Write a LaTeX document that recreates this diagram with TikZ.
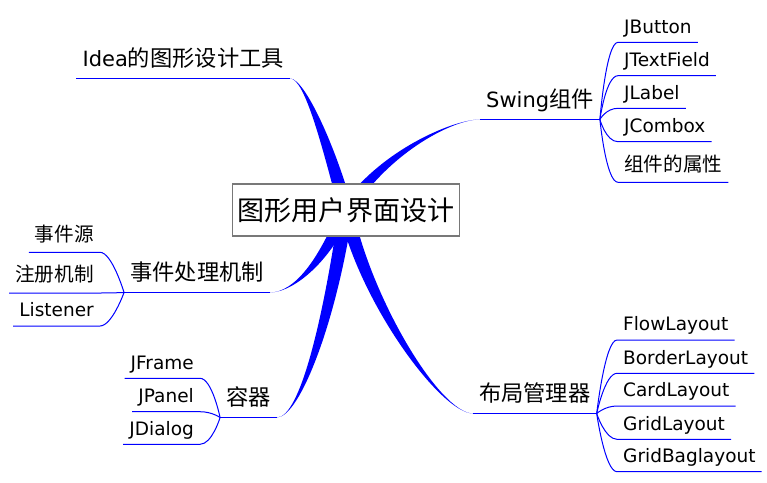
\documentclass[tikz,border=0pt]{standalone}
\usepackage{fontspec}
\setmainfont{DejaVu Sans}
\newfontfamily\cjk{Noto Sans CJK SC}[Scale=1.06]
\usetikzlibrary{calc}
\definecolor{azul}{RGB}{0,0,255}
\definecolor{borda}{RGB}{120,120,120}
\tikzset{
  raiz/.style={draw=borda, line width=1.2pt, fill=white, inner xsep=5pt, minimum height=52pt, font=\cjk\fontsize{25.5}{27}\selectfont},
  ramo/.style={inner xsep=6pt, inner ysep=0pt, text depth=12pt, font=\fontsize{21}{23}\selectfont},
  folha/.style={inner xsep=6pt, inner ysep=0pt, text depth=9pt, font=\fontsize{18.5}{20}\selectfont},
  folhazh/.style={folha, text depth=11pt, font=\cjk\fontsize{18.5}{20}\selectfont},
  tronco/.style={fill=azul},
  linha/.style={azul, line width=1pt}
}
\begin{document}
\begin{tikzpicture}[x=1pt, y=-1pt]
	\useasboundingbox (0,0) rectangle (767,482);
	%ponto central
	\coordinate (c) at (346,210);

	%ramos
	\node[ramo, anchor=south east] (idea) at (290,78.5) {Idea{\cjk 的图形设计工具}};
	\node[ramo, anchor=south west] (swing) at (480,119.5) {Swing{\cjk 组件}};
	\node[ramo, anchor=south east] (eventos) at (270,292.5) {\cjk 事件处理机制};
	\node[ramo, anchor=south east] (container) at (277,417.5) {\cjk 容器};
	\node[ramo, anchor=south west] (layout) at (473,413.5) {\cjk 布局管理器};

	\draw[linha] (idea.south west) -- (idea.south east);
	\draw[linha] (swing.south west) -- (swing.south east);
	\draw[linha] (eventos.south west) -- (eventos.south east);
	\draw[linha] (container.south west) -- (container.south east);
	\draw[linha] (layout.south west) -- (layout.south east);

	\fill[tronco] (idea.south east) .. controls (305,78) and (323,150) .. ($(c)+(-7,0)$)
		-- ($(c)+(7,0)$) .. controls (337,150) and (305,78) .. (idea.south east);
	\fill[tronco] (swing.south west) .. controls (455,119) and (378,150) .. ($(c)+(-7,0)$)
		-- ($(c)+(7,0)$) .. controls (392,150) and (455,119) .. (swing.south west);
	\fill[tronco] (eventos.south east) .. controls (295,292) and (318,260) .. ($(c)+(-7,0)$)
		-- ($(c)+(7,0)$) .. controls (332,260) and (295,292) .. (eventos.south east);
	\fill[tronco] (container.south east) .. controls (300,417) and (323,320) .. ($(c)+(-7,0)$)
		-- ($(c)+(7,0)$) .. controls (337,320) and (300,417) .. (container.south east);
	\fill[tronco] (layout.south west) .. controls (440,413) and (358,300) .. ($(c)+(-7,0)$)
		-- ($(c)+(7,0)$) .. controls (372,300) and (440,413) .. (layout.south west);

	\node[raiz] (raiz) at (c) {图形用户界面设计};

	%folhas swing
	\node[folha, anchor=south west] (jbutton) at (618,42.3) {JButton};
	\node[folha, anchor=south west] (jtextfield) at (618,75.7) {JTextField};
	\node[folha, anchor=south west] (jlabel) at (618,108.3) {JLabel};
	\node[folha, anchor=south west] (jcombox) at (618,141.7) {JCombox};
	\node[folhazh, anchor=south west] (atributos) at (618,182.3) {组件的属性};

	\draw[linha] (swing.south east) .. controls +(0,0) and +(-12,0) .. (jbutton.south west) -- (jbutton.south east);
	\draw[linha] (swing.south east) .. controls +(0,0) and +(-12,0) .. (jtextfield.south west) -- (jtextfield.south east);
	\draw[linha] (swing.south east) .. controls +(0,0) and +(-12,0) .. (jlabel.south west) -- (jlabel.south east);
	\draw[linha] (swing.south east) .. controls +(0,0) and +(-12,0) .. (jcombox.south west) -- (jcombox.south east);
	\draw[linha] (swing.south east) .. controls +(0,0) and +(-12,0) .. (atributos.south west) -- (atributos.south east);

	%folhas eventos
	\node[folhazh, anchor=south east] (fonte) at (100,252.3) {事件源};
	\node[folhazh, anchor=south east] (registro) at (100,293) {注册机制};
	\node[folha, anchor=south east] (listener) at (100,326) {Listener};

	\draw[linha] (eventos.south west) .. controls +(0,0) and +(12,0) .. (fonte.south east) -- (fonte.south west);
	\draw[linha] (eventos.south west) .. controls +(0,0) and +(12,0) .. (registro.south east) -- (registro.south west);
	\draw[linha] (eventos.south west) .. controls +(0,0) and +(12,0) .. (listener.south east) -- (listener.south west);

	%folhas container
	\node[folha, anchor=south east] (jframe) at (200,378.3) {JFrame};
	\node[folha, anchor=south east] (jpanel) at (200,411.7) {JPanel};
	\node[folha, anchor=south east] (jdialog) at (200,444.3) {JDialog};

	\draw[linha] (container.south west) .. controls +(0,0) and +(12,0) .. (jframe.south east) -- (jframe.south west);
	\draw[linha] (container.south west) .. controls +(0,0) and +(12,0) .. (jpanel.south east) -- (jpanel.south west);
	\draw[linha] (container.south west) .. controls +(0,0) and +(12,0) .. (jdialog.south east) -- (jdialog.south west);

	%folhas layout
	\node[folha, anchor=south west] (flow) at (617,340) {FlowLayout};
	\node[folha, anchor=south west] (border) at (617,373.3) {BorderLayout};
	\node[folha, anchor=south west] (card) at (617,406) {CardLayout};
	\node[folha, anchor=south west] (grid) at (617,439.3) {GridLayout};
	\node[folha, anchor=south west] (gridbag) at (617,471.7) {GridBaglayout};

	\draw[linha] (layout.south east) .. controls +(0,0) and +(-12,0) .. (flow.south west) -- (flow.south east);
	\draw[linha] (layout.south east) .. controls +(0,0) and +(-12,0) .. (border.south west) -- (border.south east);
	\draw[linha] (layout.south east) .. controls +(0,0) and +(-12,0) .. (card.south west) -- (card.south east);
	\draw[linha] (layout.south east) .. controls +(0,0) and +(-12,0) .. (grid.south west) -- (grid.south east);
	\draw[linha] (layout.south east) .. controls +(0,0) and +(-12,0) .. (gridbag.south west) -- (gridbag.south east);
\end{tikzpicture}
\end{document}
